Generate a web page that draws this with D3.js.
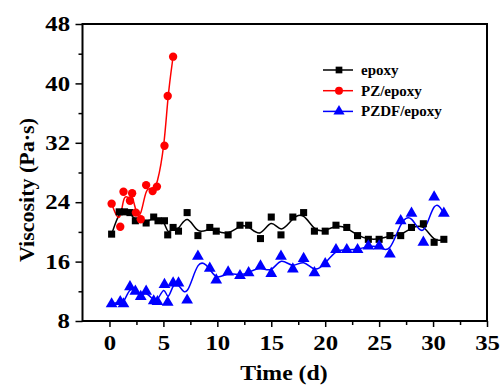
<!DOCTYPE html>
<html><head><meta charset="utf-8">
<script src="https://cdn.jsdelivr.net/npm/d3@7"></script>
<style>
body{margin:0;background:#fff;}
text{font-family:"Liberation Serif","Times New Roman",serif;font-weight:bold;}
</style></head>
<body><svg id="c" width="501" height="385"></svg>
<script>
const epoxyT = [0.2,0.9,1.4,1.9,2.4,3.4,4.1,4.5,5.1,5.4,5.9,6.4,7.2,8.2,9.3,9.9,11,12.1,12.9,14,15,15.9,17,18,19,20,21,22,23,24,25,26,27,28,29.1,30.1,31];
const epoxyV = [19.7,22.7,22.7,22.6,21.5,21.2,22.0,21.5,21.5,19.6,20.6,20.1,22.6,19.5,20.6,20.1,19.6,20.9,20.9,19.1,22.0,19.6,22.0,22.6,20.1,20.1,20.9,20.6,19.5,19.0,19.0,19.5,19.5,20.6,21.1,18.6,19.0];
const pzT = [0.2,1.0,1.3,1.9,2.1,2.45,2.9,3.4,4.0,4.4,5.1,5.4,5.9];
const pzV = [23.8,20.7,25.4,24.2,25.2,22.6,21.7,26.3,25.5,26.1,31.6,38.3,43.6];
const pzdfT = [0.2,1.0,1.3,1.9,2.4,2.9,3.4,4.1,4.45,5.1,5.4,5.9,6.4,7.2,8.2,9.3,9.9,11,12.1,12.9,14,15,15.9,17,18,19,20,21,22,23,24,25,26,27,28,29.1,30.1,31];
const pzdfV = [10.3,10.6,10.3,12.6,12.0,11.3,12.0,10.7,10.6,12.9,10.5,13.1,13.1,10.8,16.7,15.1,13.5,14.6,14.1,14.5,15.4,14.4,16.7,15.0,16.4,14.5,15.7,17.6,17.6,17.6,18.1,18.1,17.0,21.5,22.5,18.6,24.7,22.5];
const seriesNames = ["epoxy","PZ/epoxy","PZDF/epoxy"];
const seriesColors = ["#000000","#ff0000","#0000ff"];
const xTicks = [0,5,10,15,20,25,30,35];
const yTicks = [8,16,24,32,40,48];

const svg = d3.select("#c");
const x = d3.scaleLinear().domain([-2.5,35]).range([82.5,487]);
const y = d3.scaleLinear().domain([8,48]).range([321,24]);
const sx = 1.18;

// frame
svg.append("rect").attr("x",82.5).attr("y",24).attr("width",487-82.5).attr("height",321-24)
  .attr("fill","none").attr("stroke","#000").attr("stroke-width",2);

// x axis
const xAx = svg.append("g").attr("transform","translate(0,321)")
  .call(d3.axisBottom(x).tickValues(xTicks).tickSize(6).tickPadding(8).tickFormat(d3.format("d")));
xAx.select(".domain").remove();
xAx.selectAll("line").attr("stroke-width",1.5);
xAx.selectAll("text").attr("font-size",21).attr("font-family","Liberation Serif").attr("font-weight","bold").attr("fill","#000")
  .attr("transform",`scale(${sx},1)`);
svg.append("g").attr("transform","translate(0,321)")
  .call(d3.axisBottom(x).tickValues(d3.range(2.5,35,5)).tickSize(4).tickFormat(""))
  .call(g=>g.select(".domain").remove()).selectAll("line").attr("stroke-width",1.5);

// y axis
const yAx = svg.append("g").attr("transform","translate(82.5,0)")
  .call(d3.axisLeft(y).tickValues(yTicks).tickSize(7));
yAx.select(".domain").remove();
yAx.selectAll("line").attr("stroke-width",1.5);
yAx.selectAll("text").attr("font-size",21).attr("font-family","Liberation Serif").attr("font-weight","bold").attr("fill","#000")
  .attr("x",-12.5/sx).attr("transform",`scale(${sx},1)`);
svg.append("g").attr("transform","translate(82.5,0)")
  .call(d3.axisLeft(y).tickValues(d3.range(12,48,8)).tickSize(4).tickFormat(""))
  .call(g=>g.select(".domain").remove()).selectAll("line").attr("stroke-width",1.5);

// titles
svg.append("text").attr("transform","translate(284,380) scale(1.08,1)").attr("text-anchor","middle").attr("font-size",22).text("Time (d)");
svg.append("text").attr("transform","translate(34,190) rotate(-90)").attr("text-anchor","middle").attr("font-size",22).text("Viscosity (Pa\u00b7s)");

const line = d3.line().x(d=>x(d[0])).y(d=>y(d[1])).curve(d3.curveBasis);
const data = [
  d3.zip(epoxyT,epoxyV),
  d3.zip(pzT,pzV),
  d3.zip(pzdfT,pzdfV)
];
const symbols = [d3.symbolSquare,d3.symbolCircle,d3.symbolTriangle];
const sizes = [50,55,60];

data.forEach((pts,i)=>{
  svg.append("path").attr("d",line(pts)).attr("fill","none").attr("stroke",seriesColors[i]).attr("stroke-width",1.5);
});
data.forEach((pts,i)=>{
  svg.append("g").selectAll("path").data(pts).join("path")
    .attr("transform",d=>`translate(${x(d[0])},${y(d[1])})`)
    .attr("d",d3.symbol(symbols[i],sizes[i])).attr("fill",seriesColors[i]);
});

// legend
const lg = svg.append("g");
seriesNames.forEach((n,i)=>{
  const yy = 70 + i*20.7;
  lg.append("line").attr("x1",323).attr("x2",353).attr("y1",yy).attr("y2",yy).attr("stroke",seriesColors[i]).attr("stroke-width",1.5);
  lg.append("path").attr("transform",`translate(339,${yy})`).attr("d",d3.symbol(symbols[i],sizes[i]*0.9)).attr("fill",seriesColors[i]);
  lg.append("text").attr("x",361).attr("y",yy+5).attr("font-size",15).text(n);
});
</script></body></html>
